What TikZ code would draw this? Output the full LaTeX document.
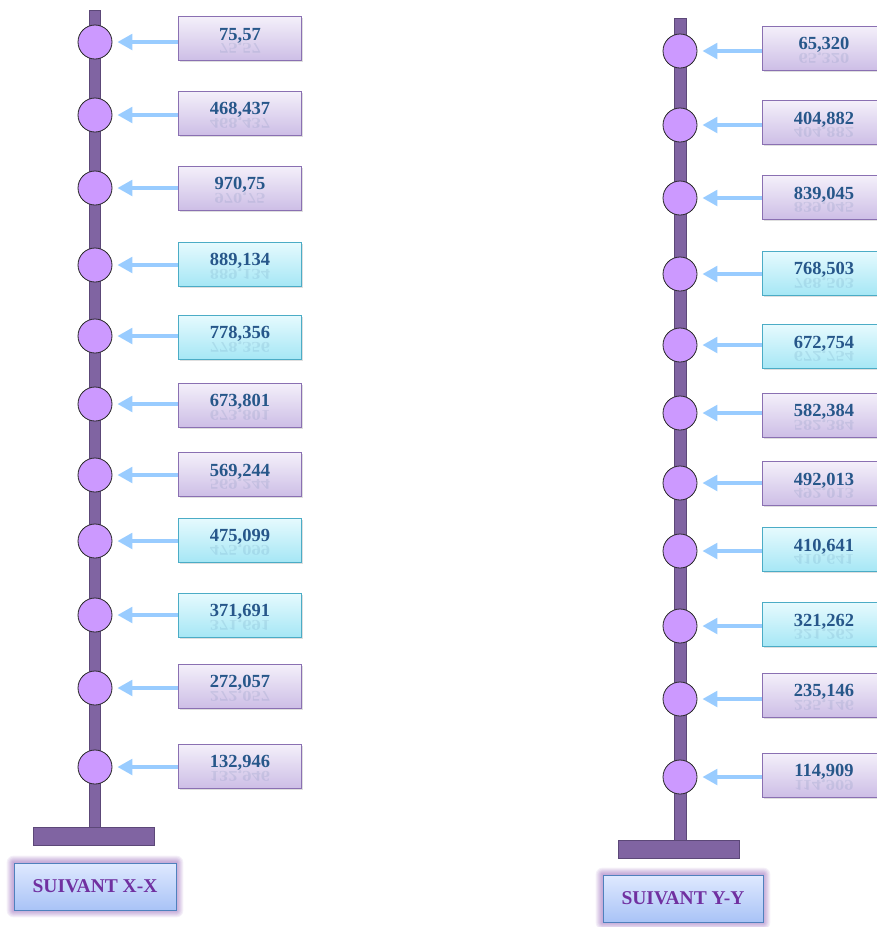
\documentclass[tikz,border=0pt]{standalone}
\usepackage{fontspec}
\setmainfont{Liberation Serif}
\usetikzlibrary{arrows.meta,shadows,backgrounds,calc,fadings}

\definecolor{mastfill}{HTML}{8064A2}
\definecolor{mastline}{HTML}{5C4878}
\definecolor{jointfill}{HTML}{CC99FF}
\definecolor{forcecol}{HTML}{99CCFF}
\definecolor{valcol}{HTML}{27578A}
\definecolor{ptop}{HTML}{F4F0FA}
\definecolor{pbot}{HTML}{CDBEE6}
\definecolor{pline}{HTML}{8A70B2}
\definecolor{ctop}{HTML}{E6FAFE}
\definecolor{cbot}{HTML}{A6E7F5}
\definecolor{cline}{HTML}{4BACC6}
\definecolor{captop}{HTML}{DFE9FF}
\definecolor{capbot}{HTML}{A9C3F6}
\definecolor{capline}{HTML}{4F81BD}
\definecolor{capcol}{HTML}{7030A0}

\tikzset{
  mast/.style={fill=mastfill, draw=mastline, line width=0.8pt},
  joint/.style={circle, draw=black!85, fill=jointfill, line width=0.8pt,
    minimum size=34pt, inner sep=0pt},
  pbox/.style={rectangle, minimum width=123pt, minimum height=44pt, inner sep=0pt,
    draw=pline, line width=0.8pt, top color=ptop, bottom color=pbot,
    drop shadow={shadow xshift=1.2pt, shadow yshift=-1.5pt, opacity=0.25}},
  cbox/.style={pbox, draw=cline, top color=ctop, bottom color=cbot},
  valtext/.style={inner sep=0pt, text=valcol,
    font=\bfseries\fontsize{18.5}{20}\selectfont},
  mirror/.style={valtext, opacity=0.11},
  force/.style={draw=forcecol, line width=4.6pt,
    -{Triangle[length=15pt,width=15.5pt]}, shorten >=5pt},
  capbox/.style={rectangle, minimum height=47pt, inner sep=0pt,
    draw=capline, line width=0.8pt, top color=captop, bottom color=capbot,
    text=capcol, font=\bfseries\fontsize{19.5}{21}\selectfont},
  glow/.style={fill=capcol, opacity=0.07}
}

\begin{document}
\begin{tikzpicture}[x=1pt, y=-1pt]
\useasboundingbox (0,0) rectangle (877,927);
\clip (0,0) rectangle (877,927);

% ---- column along X-X ----
\draw[mast] (89,10) rectangle (100,829);
\draw[mast] (33,827) rectangle (154,845);

\foreach \i/\cy/\by/\val/\kind in {
  1/42/38.5/{75,57}/pbox,
  2/115/113/{468,437}/pbox,
  3/188/188/{970,75}/pbox,
  4/265/264/{889,134}/cbox,
  5/336/337/{778,356}/cbox,
  6/404/405/{673,801}/pbox,
  7/475/474.5/{569,244}/pbox,
  8/541/540/{475,099}/cbox,
  9/615/615/{371,691}/cbox,
  10/688/686/{272,057}/pbox,
  11/767/766/{132,946}/pbox}
{
  \node[joint] (jL\i) at (95,\cy) {};
  \draw[force] (240-61.5,\cy) coordinate (aL\i) -- (jL\i.east);
  \node[\kind] (bL\i) at (240,\by) {};
  \node[valtext, anchor=base] (tL\i) at ([yshift=-24pt]bL\i.north) {\val};
  \node[mirror, anchor=north] (mL\i) at ([yshift=-1pt]tL\i.base) {\scalebox{1}[-0.8]{\val}};
}

\node[capbox, minimum width=162pt] (capL) at (95,886.5) {SUIVANT X-X};
\begin{scope}[on background layer]
  \foreach \g in {1,...,7}
    \fill[glow, rounded corners=\g pt]
      ($(capL.south west)+(-\g,\g)$) rectangle ($(capL.north east)+(\g,-\g)$);
\end{scope}

% ---- column along Y-Y ----
\draw[mast] (674,18) rectangle (686,841);
\draw[mast] (618,840) rectangle (739,858);

\foreach \i/\cy/\by/\val/\kind in {
  1/51/48/{65,320}/pbox,
  2/125/122.5/{404,882}/pbox,
  3/198/197.5/{839,045}/pbox,
  4/274/273/{768,503}/cbox,
  5/345/346.5/{672,754}/cbox,
  6/413/415/{582,384}/pbox,
  7/483/483.5/{492,013}/pbox,
  8/551/549.5/{410,641}/cbox,
  9/626/624.5/{321,262}/cbox,
  10/699/695/{235,146}/pbox,
  11/777/775/{114,909}/pbox}
{
  \node[joint] (jR\i) at (680,\cy) {};
  \draw[force] (824-61.5,\cy) coordinate (aR\i) -- (jR\i.east);
  \node[\kind] (bR\i) at (824,\by) {};
  \node[valtext, anchor=base] (tR\i) at ([yshift=-24pt]bR\i.north) {\val};
  \node[mirror, anchor=north] (mR\i) at ([yshift=-1pt]tR\i.base) {\scalebox{1}[-0.8]{\val}};
}

\node[capbox, minimum width=160pt] (capR) at (683,898.5) {SUIVANT Y-Y};
\begin{scope}[on background layer]
  \foreach \g in {1,...,7}
    \fill[glow, rounded corners=\g pt]
      ($(capR.south west)+(-\g,\g)$) rectangle ($(capR.north east)+(\g,-\g)$);
\end{scope}
\end{tikzpicture}
\end{document}
